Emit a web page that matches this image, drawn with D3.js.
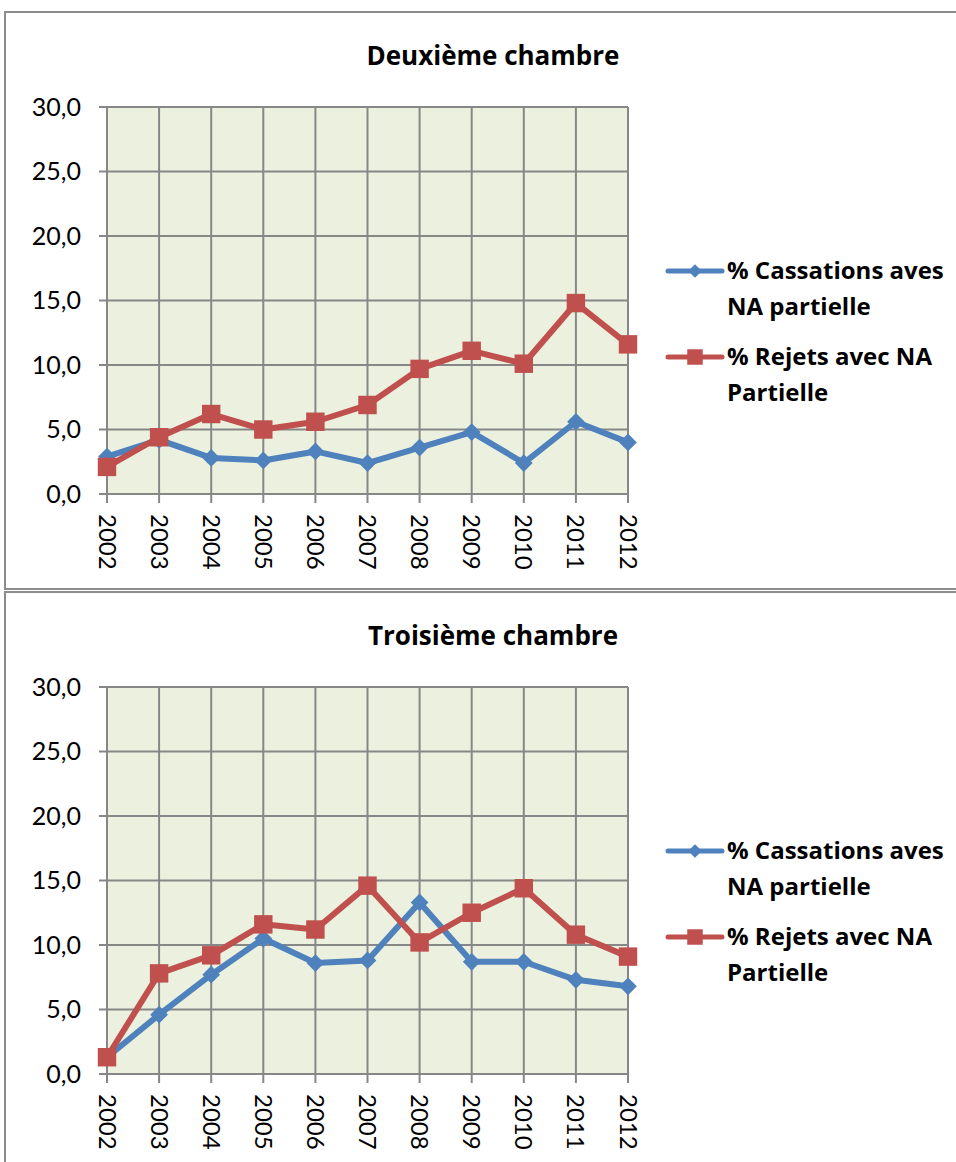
<!DOCTYPE html>
<html>
<head>
<meta charset="utf-8">
<script src="https://cdn.jsdelivr.net/npm/d3@7"></script>
<style>
  body { margin: 0; background: #fff; }
  text { font-family: Lato, "Open Sans", sans-serif; fill: #000; }
  text.bold { font-family: "Open Sans", Lato, sans-serif; font-weight: bold; }
</style>
</head>
<body>
<svg id="chart" width="956" height="1162"></svg>
<script>
var years = ["2002", "2003", "2004", "2005", "2006", "2007", "2008", "2009", "2010", "2011", "2012"];
var yTicks = [0, 5, 10, 15, 20, 25, 30];
var seriesNames = ["% Cassations aves NA partielle", "% Rejets avec NA Partielle"];
var legendLines = [["% Cassations aves", "NA partielle"], ["% Rejets avec NA", "Partielle"]];

var titles = ["Deuxième chambre", "Troisième chambre"];
var cassations2 = [2.9, 4.2, 2.8, 2.6, 3.3, 2.4, 3.6, 4.8, 2.4, 5.6, 4.0];
var rejets2 = [2.1, 4.4, 6.2, 5.0, 5.6, 6.9, 9.7, 11.1, 10.1, 14.8, 11.6];
var cassations3 = [1.3, 4.6, 7.7, 10.5, 8.6, 8.8, 13.3, 8.7, 8.7, 7.3, 6.8];
var rejets3 = [1.3, 7.8, 9.2, 11.6, 11.2, 14.6, 10.2, 12.5, 14.4, 10.8, 9.1];

var colors = ["#4F81BD", "#C0504D"];
var gridColor = "#878787";

var svg = d3.select("#chart");

var drawChart = function(top, title, data) {
  var g = svg.append("g").attr("transform", "translate(0," + top + ")");

  // outer frame
  g.append("rect")
    .attr("x", 5).attr("y", 0)
    .attr("width", 956).attr("height", 577)
    .attr("fill", "#fff")
    .attr("stroke", "#8c8c8c")
    .attr("stroke-width", 2);

  g.append("text")
    .attr("class", "bold")
    .attr("x", 493).attr("y", 53)
    .attr("text-anchor", "middle")
    .attr("font-size", 26)
    .text(title);

  var x = d3.scalePoint().domain(years).range([107, 628]);
  var y = d3.scaleLinear().domain([0, 30]).range([482, 95]);

  g.append("rect")
    .attr("x", 107).attr("y", y(30))
    .attr("width", 628 - 107).attr("height", y(0) - y(30))
    .attr("fill", "#EBF1DE");

  // gridlines
  g.append("g").selectAll("line.h").data(yTicks).join("line")
    .attr("x1", 99).attr("x2", 628)
    .attr("y1", function(d) { return y(d); })
    .attr("y2", function(d) { return y(d); })
    .attr("stroke", gridColor).attr("stroke-width", 2);
  g.append("g").selectAll("line.v").data(years).join("line")
    .attr("x1", function(d) { return x(d); })
    .attr("x2", function(d) { return x(d); })
    .attr("y1", y(30)).attr("y2", y(0) + 9)
    .attr("stroke", gridColor).attr("stroke-width", 2);

  // y labels
  g.append("g").selectAll("text").data(yTicks).join("text")
    .attr("x", 81)
    .attr("y", function(d) { return y(d); })
    .attr("dy", "0.35em")
    .attr("text-anchor", "end")
    .attr("font-size", 25)
    .text(function(d) { return d.toFixed(1).replace(".", ","); });

  // x labels, rotated
  g.append("g").selectAll("text").data(years).join("text")
    .attr("transform", function(d) { return "translate(" + x(d) + "," + (y(0) + 20) + ") rotate(90)"; })
    .attr("dy", "0.35em")
    .attr("font-size", 24)
    .text(function(d) { return d; });

  var line = d3.line()
    .x(function(d, i) { return x(years[i]); })
    .y(function(d) { return y(d); });

  data.forEach(function(values, s) {
    g.append("path")
      .attr("d", line(values))
      .attr("fill", "none")
      .attr("stroke", colors[s])
      .attr("stroke-width", 6)
      .attr("stroke-linejoin", "round");
    var sym = s === 0 ? d3.symbolDiamond2 : d3.symbolSquare;
    var size = s === 0 ? 200 : 340;
    g.append("g").selectAll("path").data(values).join("path")
      .attr("transform", function(d, i) { return "translate(" + x(years[i]) + "," + y(d) + ")"; })
      .attr("d", d3.symbol().type(sym).size(size))
      .attr("fill", colors[s]);
  });

  // legend
  var legend = g.append("g");
  legendLines.forEach(function(lines, s) {
    var ly = 259 + s * 86;
    legend.append("line")
      .attr("x1", 668).attr("x2", 722)
      .attr("y1", ly).attr("y2", ly)
      .attr("stroke", colors[s]).attr("stroke-width", 5)
      .attr("stroke-linecap", "round");
    var sym = s === 0 ? d3.symbolDiamond2 : d3.symbolSquare;
    legend.append("path")
      .attr("transform", "translate(695," + ly + ")")
      .attr("d", d3.symbol().type(sym).size(s === 0 ? 120 : 240))
      .attr("fill", colors[s]);
    lines.forEach(function(t, k) {
      legend.append("text")
        .attr("class", "bold")
        .attr("x", 727)
        .attr("y", ly + k * 36)
        .attr("dy", "0.35em")
        .attr("font-size", 24)
        .text(t);
    });
  });
};

drawChart(12, titles[0], [cassations2, rejets2]);
drawChart(592, titles[1], [cassations3, rejets3]);
</script>
</body>
</html>
